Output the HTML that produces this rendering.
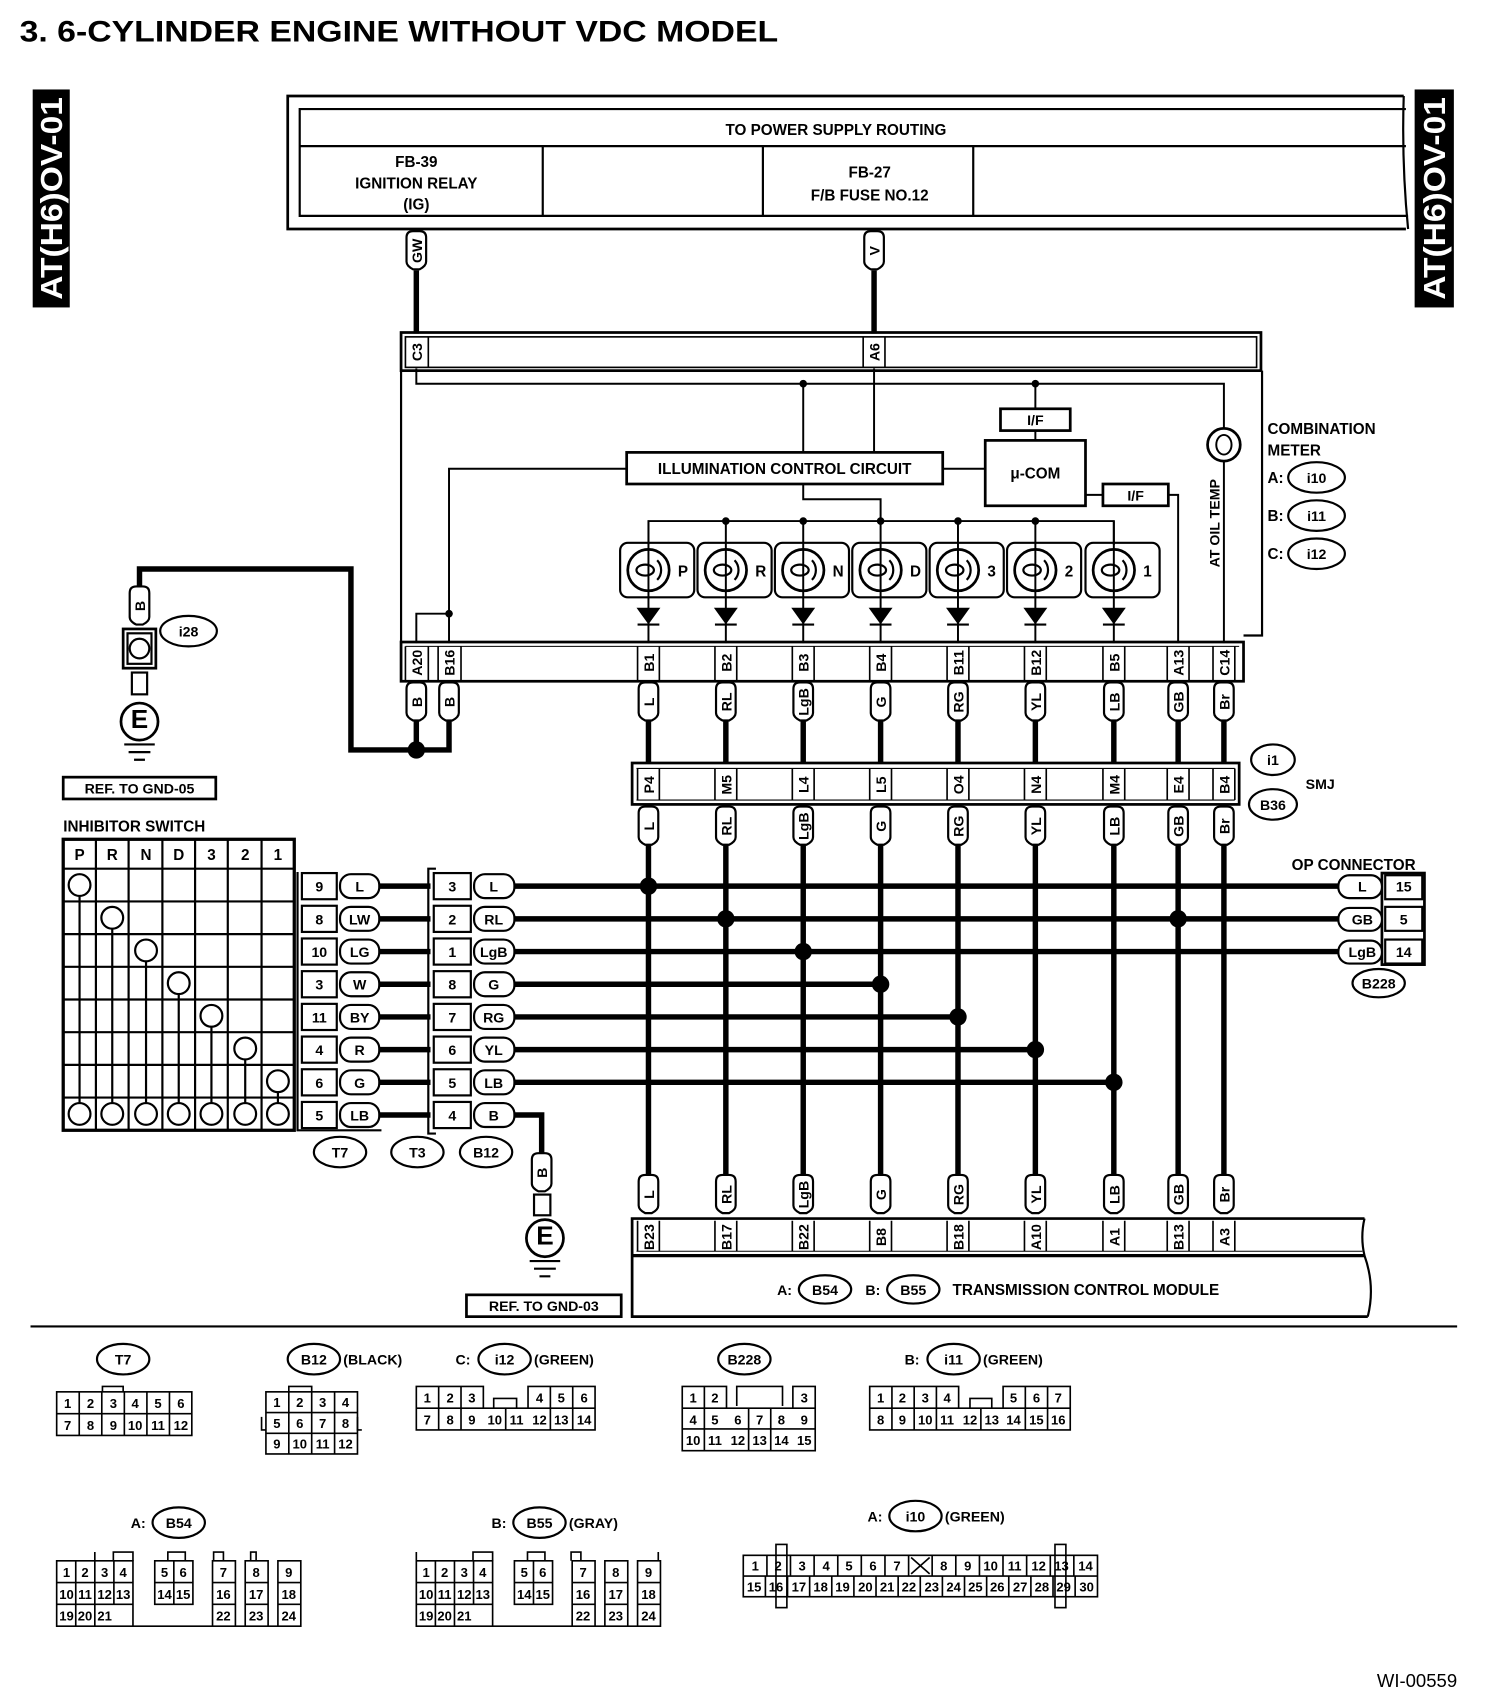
<!DOCTYPE html>
<html><head><meta charset="utf-8"><style>
html,body{margin:0;padding:0;background:#fff;}
svg{display:block;}
text{font-family:"Liberation Sans",sans-serif;font-weight:bold;fill:#000;}
.s{font-size:13px;}
.n{font-size:12px;font-weight:normal;}
</style></head><body>
<svg width="1504" height="1708" viewBox="0 0 1380 1567" xmlns="http://www.w3.org/2000/svg">
<rect width="1380" height="1567" fill="#fff"/>
<text x="18" y="38" font-size="27" textLength="696" lengthAdjust="spacingAndGlyphs">3.  6-CYLINDER ENGINE WITHOUT VDC MODEL</text>
<rect x="30" y="82" width="34" height="200" fill="#000"/>
<text transform="translate(57,182) rotate(-90)" text-anchor="middle" font-size="28" style="fill:#fff" textLength="186" lengthAdjust="spacingAndGlyphs">AT(H6)OV-01</text>
<rect x="1298" y="82" width="36" height="200" fill="#000"/>
<text transform="translate(1326,182) rotate(-90)" text-anchor="middle" font-size="28" style="fill:#fff" textLength="186" lengthAdjust="spacingAndGlyphs">AT(H6)OV-01</text>

<g fill="none" stroke="#000">
<path d="M1288,88 H264 V210 H1290" stroke-width="2.5"/>
<path d="M1290,100 H275 V198 H1292" stroke-width="2"/>
<path d="M1288,88 Q1286,150 1292,210" stroke-width="2"/>
<line x1="275" y1="134" x2="1290" y2="134" stroke-width="2"/>
<line x1="498" y1="134" x2="498" y2="198" stroke-width="2"/>
<line x1="700" y1="134" x2="700" y2="198" stroke-width="2"/>
<line x1="893" y1="134" x2="893" y2="198" stroke-width="2"/>
<line x1="382" y1="248" x2="382" y2="306" stroke-width="5"/>
<line x1="802" y1="248" x2="802" y2="306" stroke-width="5"/>
<rect x="368" y="305" width="789" height="35" stroke-width="2.5"/>
<rect x="372" y="309" width="781" height="28" stroke-width="1.5"/>
<line x1="393" y1="309" x2="393" y2="337" stroke-width="1.5"/>
<line x1="792" y1="309" x2="792" y2="337" stroke-width="1.5"/>
<line x1="812" y1="309" x2="812" y2="337" stroke-width="1.5"/>
<line x1="368" y1="340" x2="368" y2="590" stroke-width="2"/>
<path d="M1158,340 V583 H1141" stroke-width="2"/>
<rect x="368" y="589" width="773" height="36" stroke-width="2.5"/>
<line x1="372" y1="593" x2="1137" y2="593" stroke-width="1"/>
<g stroke-width="1.8">
<path d="M382,338 V352 H1123 V393"/>
<path d="M737,352 V415"/>
<path d="M950,352 V375"/>
<path d="M950,395 V404"/>
<path d="M802,338 V415"/>
<path d="M575,430 H412 V590"/>
<path d="M382,590 V563 H412"/>
<path d="M865,430 H904"/>
<path d="M737,444 V458 H808 V478"/>
<path d="M595,500 V478 H1022 V500"/>
<path d="M996,454 H1012"/>
<path d="M1072,454 H1081 V590"/>
<path d="M1123,423 V590"/>
<rect x="918" y="375" width="64" height="20" stroke-width="2.5"/>
<rect x="904" y="404" width="92" height="60" stroke-width="2.5"/>
<rect x="575" y="415" width="290" height="29" stroke-width="2.5"/>
<rect x="1012" y="444" width="60" height="20" stroke-width="2.5"/>
<circle cx="1123" cy="408" r="15" stroke-width="2.5"/>
<ellipse cx="1123" cy="408" rx="7" ry="9"/>
</g>
</g>
<g fill="#000">
<circle cx="737" cy="352" r="3.5"/><circle cx="950" cy="352" r="3.5"/><circle cx="412" cy="563" r="3.5"/>
<circle cx="666" cy="478" r="3.5"/><circle cx="737" cy="478" r="3.5"/><circle cx="808" cy="478" r="3.5"/><circle cx="879" cy="478" r="3.5"/><circle cx="950" cy="478" r="3.5"/>
</g>
<text x="950" y="390" text-anchor="middle" class="s">I/F</text>
<text x="950" y="439" text-anchor="middle" font-size="14">μ-COM</text>
<text x="720" y="435" text-anchor="middle" font-size="14">ILLUMINATION CONTROL CIRCUIT</text>
<text x="1042" y="459" text-anchor="middle" class="s">I/F</text>
<text transform="translate(1119,480) rotate(-90)" text-anchor="middle" class="s">AT OIL TEMP</text>

<defs>
<g id="lamp" fill="none" stroke="#000">
<rect x="-26" y="-25" width="68" height="50" rx="7" stroke-width="2"/>
<circle cx="0" cy="0" r="19" stroke-width="2.5"/>
<path d="M8,-9 A13,13 0 0 1 8,9" stroke-width="2"/>
<ellipse cx="-3" cy="0" rx="8" ry="5" stroke-width="2"/>
<line x1="0" y1="-45" x2="0" y2="67" stroke-width="1.8"/>
<path d="M-10,35 H10 L0,49 Z" fill="#000" stroke-width="1"/>
<line x1="-10" y1="50" x2="10" y2="50" stroke-width="2"/>
</g>
<g id="vpill" fill="#fff" stroke="#000" stroke-width="2">
<path d="M-9,6 Q-9,0 -3,0 H3 Q9,0 9,6 V28 Q9,32 3,35 H-3 Q-9,32 -9,28 Z"/>
</g>
</defs>
<use href="#lamp" x="595" y="523"/><use href="#lamp" x="666" y="523"/><use href="#lamp" x="737" y="523"/><use href="#lamp" x="808" y="523"/><use href="#lamp" x="879" y="523"/><use href="#lamp" x="950" y="523"/><use href="#lamp" x="1022" y="523"/>
<g font-size="14">
<text x="622" y="529">P</text><text x="693" y="529">R</text><text x="764" y="529">N</text><text x="835" y="529">D</text><text x="906" y="529">3</text><text x="977" y="529">2</text><text x="1049" y="529">1</text>
</g>

<g stroke="#000" stroke-width="1.5">
<line x1="372" y1="593" x2="372" y2="625"/><line x1="393" y1="593" x2="393" y2="625"/><line x1="402" y1="593" x2="402" y2="625"/><line x1="423" y1="593" x2="423" y2="625"/>
<line x1="585" y1="593" x2="585" y2="625"/><line x1="605" y1="593" x2="605" y2="625"/>
<line x1="656" y1="593" x2="656" y2="625"/><line x1="676" y1="593" x2="676" y2="625"/>
<line x1="727" y1="593" x2="727" y2="625"/><line x1="747" y1="593" x2="747" y2="625"/>
<line x1="798" y1="593" x2="798" y2="625"/><line x1="818" y1="593" x2="818" y2="625"/>
<line x1="869" y1="593" x2="869" y2="625"/><line x1="889" y1="593" x2="889" y2="625"/>
<line x1="940" y1="593" x2="940" y2="625"/><line x1="960" y1="593" x2="960" y2="625"/>
<line x1="1012" y1="593" x2="1012" y2="625"/><line x1="1032" y1="593" x2="1032" y2="625"/>
<line x1="1071" y1="593" x2="1071" y2="625"/><line x1="1091" y1="593" x2="1091" y2="625"/>
<line x1="1113" y1="593" x2="1113" y2="625"/><line x1="1133" y1="593" x2="1133" y2="625"/>
</g>
<g class="s">
<text transform="translate(807,323) rotate(-90)" text-anchor="middle">A6</text>
<text transform="translate(387,323) rotate(-90)" text-anchor="middle">C3</text>
</g>
<g font-size="13" text-anchor="middle">
<text transform="translate(387,608) rotate(-90)" text-anchor="middle">A20</text>
<text transform="translate(417,608) rotate(-90)" text-anchor="middle">B16</text>
<text transform="translate(600,608) rotate(-90)" text-anchor="middle">B1</text>
<text transform="translate(671,608) rotate(-90)" text-anchor="middle">B2</text>
<text transform="translate(742,608) rotate(-90)" text-anchor="middle">B3</text>
<text transform="translate(813,608) rotate(-90)" text-anchor="middle">B4</text>
<text transform="translate(884,608) rotate(-90)" text-anchor="middle">B11</text>
<text transform="translate(955,608) rotate(-90)" text-anchor="middle">B12</text>
<text transform="translate(1027,608) rotate(-90)" text-anchor="middle">B5</text>
<text transform="translate(1086,608) rotate(-90)" text-anchor="middle">A13</text>
<text transform="translate(1128,608) rotate(-90)" text-anchor="middle">C14</text>
</g>

<use href="#vpill" x="382" y="212"/><use href="#vpill" x="802" y="212"/>
<text transform="translate(387,230) rotate(-90)" text-anchor="middle" class="s">GW</text>
<text transform="translate(807,230) rotate(-90)" text-anchor="middle" class="s">V</text>

<g fill="none" stroke="#000" stroke-width="5">
<path d="M382,660 V688"/>
<path d="M412,660 V688 H322 V522 H128 V540"/>
<path d="M595,660 V702 M666,660 V702 M737,660 V702 M808,660 V702 M879,660 V702 M950,660 V702 M1022,660 V702 M1081,660 V702 M1123,660 V702"/>
<path d="M595,775 V1080 M666,775 V1080 M737,775 V1080 M808,775 V1080 M879,775 V1080 M950,775 V1080 M1022,775 V1080 M1081,775 V1080 M1123,775 V1080"/>
<path d="M472,813 H1232 M472,843 H1232 M472,873 H1232 M472,903 H808 M472,933 H879 M472,963 H950 M472,993 H1022"/>
<path d="M348,813 H395 M348,843 H395 M348,873 H395 M348,903 H395 M348,933 H395 M348,963 H395 M348,993 H395 M348,1023 H395"/>
<path d="M472,1023 H497 V1062"/>
</g>
<g fill="#000">
<circle cx="382" cy="688" r="8"/>
<circle cx="595" cy="813" r="8"/><circle cx="666" cy="843" r="8"/><circle cx="1081" cy="843" r="8"/><circle cx="737" cy="873" r="8"/><circle cx="808" cy="903" r="8"/><circle cx="879" cy="933" r="8"/><circle cx="950" cy="963" r="8"/><circle cx="1022" cy="993" r="8"/>
</g>

<use href="#vpill" x="382" y="626"/><use href="#vpill" x="412" y="626"/><use href="#vpill" x="595" y="626"/><use href="#vpill" x="666" y="626"/><use href="#vpill" x="737" y="626"/><use href="#vpill" x="808" y="626"/><use href="#vpill" x="879" y="626"/><use href="#vpill" x="950" y="626"/><use href="#vpill" x="1022" y="626"/><use href="#vpill" x="1081" y="626"/><use href="#vpill" x="1123" y="626"/>
<g font-size="13">
<text transform="translate(387,644) rotate(-90)" text-anchor="middle">B</text>
<text transform="translate(417,644) rotate(-90)" text-anchor="middle">B</text>
<text transform="translate(600,644) rotate(-90)" text-anchor="middle">L</text>
<text transform="translate(671,644) rotate(-90)" text-anchor="middle">RL</text>
<text transform="translate(742,644) rotate(-90)" text-anchor="middle">LgB</text>
<text transform="translate(813,644) rotate(-90)" text-anchor="middle">G</text>
<text transform="translate(884,644) rotate(-90)" text-anchor="middle">RG</text>
<text transform="translate(955,644) rotate(-90)" text-anchor="middle">YL</text>
<text transform="translate(1027,644) rotate(-90)" text-anchor="middle">LB</text>
<text transform="translate(1086,644) rotate(-90)" text-anchor="middle">GB</text>
<text transform="translate(1128,644) rotate(-90)" text-anchor="middle">Br</text>
</g>

<rect x="580" y="700" width="557" height="38" fill="#fff" stroke="#000" stroke-width="2.5"/>
<line x1="584" y1="705" x2="1133" y2="705" stroke="#000" stroke-width="1"/>
<line x1="584" y1="734" x2="1133" y2="734" stroke="#000" stroke-width="1"/>
<g stroke="#000" stroke-width="1.5">
<line x1="585" y1="705" x2="585" y2="734"/><line x1="605" y1="705" x2="605" y2="734"/><line x1="656" y1="705" x2="656" y2="734"/><line x1="676" y1="705" x2="676" y2="734"/><line x1="727" y1="705" x2="727" y2="734"/><line x1="747" y1="705" x2="747" y2="734"/><line x1="798" y1="705" x2="798" y2="734"/><line x1="818" y1="705" x2="818" y2="734"/><line x1="869" y1="705" x2="869" y2="734"/><line x1="889" y1="705" x2="889" y2="734"/><line x1="940" y1="705" x2="940" y2="734"/><line x1="960" y1="705" x2="960" y2="734"/><line x1="1012" y1="705" x2="1012" y2="734"/><line x1="1032" y1="705" x2="1032" y2="734"/><line x1="1071" y1="705" x2="1071" y2="734"/><line x1="1091" y1="705" x2="1091" y2="734"/><line x1="1113" y1="705" x2="1113" y2="734"/><line x1="1133" y1="705" x2="1133" y2="734"/>
</g>
<g font-size="13">
<text transform="translate(600,720) rotate(-90)" text-anchor="middle">P4</text>
<text transform="translate(671,720) rotate(-90)" text-anchor="middle">M5</text>
<text transform="translate(742,720) rotate(-90)" text-anchor="middle">L4</text>
<text transform="translate(813,720) rotate(-90)" text-anchor="middle">L5</text>
<text transform="translate(884,720) rotate(-90)" text-anchor="middle">O4</text>
<text transform="translate(955,720) rotate(-90)" text-anchor="middle">N4</text>
<text transform="translate(1027,720) rotate(-90)" text-anchor="middle">M4</text>
<text transform="translate(1086,720) rotate(-90)" text-anchor="middle">E4</text>
<text transform="translate(1128,720) rotate(-90)" text-anchor="middle">B4</text>
</g>
<use href="#vpill" x="595" y="740"/><use href="#vpill" x="666" y="740"/><use href="#vpill" x="737" y="740"/><use href="#vpill" x="808" y="740"/><use href="#vpill" x="879" y="740"/><use href="#vpill" x="950" y="740"/><use href="#vpill" x="1022" y="740"/><use href="#vpill" x="1081" y="740"/><use href="#vpill" x="1123" y="740"/>
<g font-size="13">
<text transform="translate(600,758) rotate(-90)" text-anchor="middle">L</text>
<text transform="translate(671,758) rotate(-90)" text-anchor="middle">RL</text>
<text transform="translate(742,758) rotate(-90)" text-anchor="middle">LgB</text>
<text transform="translate(813,758) rotate(-90)" text-anchor="middle">G</text>
<text transform="translate(884,758) rotate(-90)" text-anchor="middle">RG</text>
<text transform="translate(955,758) rotate(-90)" text-anchor="middle">YL</text>
<text transform="translate(1027,758) rotate(-90)" text-anchor="middle">LB</text>
<text transform="translate(1086,758) rotate(-90)" text-anchor="middle">GB</text>
<text transform="translate(1128,758) rotate(-90)" text-anchor="middle">Br</text>
</g>

<use href="#vpill" x="595" y="1078"/><use href="#vpill" x="666" y="1078"/><use href="#vpill" x="737" y="1078"/><use href="#vpill" x="808" y="1078"/><use href="#vpill" x="879" y="1078"/><use href="#vpill" x="950" y="1078"/><use href="#vpill" x="1022" y="1078"/><use href="#vpill" x="1081" y="1078"/><use href="#vpill" x="1123" y="1078"/>
<g font-size="13">
<text transform="translate(600,1096) rotate(-90)" text-anchor="middle">L</text>
<text transform="translate(671,1096) rotate(-90)" text-anchor="middle">RL</text>
<text transform="translate(742,1096) rotate(-90)" text-anchor="middle">LgB</text>
<text transform="translate(813,1096) rotate(-90)" text-anchor="middle">G</text>
<text transform="translate(884,1096) rotate(-90)" text-anchor="middle">RG</text>
<text transform="translate(955,1096) rotate(-90)" text-anchor="middle">YL</text>
<text transform="translate(1027,1096) rotate(-90)" text-anchor="middle">LB</text>
<text transform="translate(1086,1096) rotate(-90)" text-anchor="middle">GB</text>
<text transform="translate(1128,1096) rotate(-90)" text-anchor="middle">Br</text>
</g>
<g fill="none" stroke="#000">
<path d="M1252,1118 H580 V1208 H1255" stroke-width="2.5"/>
<path d="M1252,1118 Q1248,1135 1252,1152 Q1262,1180 1255,1208" stroke-width="2"/>
<line x1="580" y1="1152" x2="1252" y2="1152" stroke-width="3"/>
<line x1="584" y1="1148" x2="1250" y2="1148" stroke-width="1"/>
<g stroke-width="1.5">
<line x1="585" y1="1120" x2="585" y2="1148"/><line x1="605" y1="1120" x2="605" y2="1148"/><line x1="656" y1="1120" x2="656" y2="1148"/><line x1="676" y1="1120" x2="676" y2="1148"/><line x1="727" y1="1120" x2="727" y2="1148"/><line x1="747" y1="1120" x2="747" y2="1148"/><line x1="798" y1="1120" x2="798" y2="1148"/><line x1="818" y1="1120" x2="818" y2="1148"/><line x1="869" y1="1120" x2="869" y2="1148"/><line x1="889" y1="1120" x2="889" y2="1148"/><line x1="940" y1="1120" x2="940" y2="1148"/><line x1="960" y1="1120" x2="960" y2="1148"/><line x1="1012" y1="1120" x2="1012" y2="1148"/><line x1="1032" y1="1120" x2="1032" y2="1148"/><line x1="1071" y1="1120" x2="1071" y2="1148"/><line x1="1091" y1="1120" x2="1091" y2="1148"/><line x1="1113" y1="1120" x2="1113" y2="1148"/><line x1="1133" y1="1120" x2="1133" y2="1148"/>
</g>
</g>
<g font-size="13">
<text transform="translate(600,1135) rotate(-90)" text-anchor="middle">B23</text>
<text transform="translate(671,1135) rotate(-90)" text-anchor="middle">B17</text>
<text transform="translate(742,1135) rotate(-90)" text-anchor="middle">B22</text>
<text transform="translate(813,1135) rotate(-90)" text-anchor="middle">B8</text>
<text transform="translate(884,1135) rotate(-90)" text-anchor="middle">B18</text>
<text transform="translate(955,1135) rotate(-90)" text-anchor="middle">A10</text>
<text transform="translate(1027,1135) rotate(-90)" text-anchor="middle">A1</text>
<text transform="translate(1086,1135) rotate(-90)" text-anchor="middle">B13</text>
<text transform="translate(1128,1135) rotate(-90)" text-anchor="middle">A3</text>
</g>
<text x="713" y="1188" class="s">A:</text>
<ellipse cx="757" cy="1183" rx="24" ry="13" fill="none" stroke="#000" stroke-width="2"/>
<text x="757" y="1188" text-anchor="middle" class="s">B54</text>
<text x="794" y="1188" class="s">B:</text>
<ellipse cx="838" cy="1183" rx="24" ry="13" fill="none" stroke="#000" stroke-width="2"/>
<text x="838" y="1188" text-anchor="middle" class="s">B55</text>
<text x="874" y="1188" font-size="14">TRANSMISSION CONTROL MODULE</text>

<text x="767" y="124" text-anchor="middle" font-size="14">TO POWER SUPPLY ROUTING</text>
<text x="382" y="153" text-anchor="middle" font-size="14">FB-39</text>
<text x="382" y="173" text-anchor="middle" font-size="14">IGNITION RELAY</text>
<text x="382" y="192" text-anchor="middle" font-size="14">(IG)</text>
<text x="798" y="163" text-anchor="middle" font-size="14">FB-27</text>
<text x="798" y="184" text-anchor="middle" font-size="14">F/B FUSE NO.12</text>

<text x="1163" y="398" font-size="14">COMBINATION</text>
<text x="1163" y="418" font-size="14">METER</text>
<text x="1163" y="443" font-size="14">A:</text><text x="1163" y="478" font-size="14">B:</text><text x="1163" y="513" font-size="14">C:</text>
<g fill="none" stroke="#000" stroke-width="2">
<ellipse cx="1208" cy="438" rx="26" ry="14"/><ellipse cx="1208" cy="473" rx="26" ry="14"/><ellipse cx="1208" cy="508" rx="26" ry="14"/>
<ellipse cx="1168" cy="697" rx="20" ry="14"/><ellipse cx="1168" cy="738" rx="22" ry="14"/>
<ellipse cx="1265" cy="902" rx="24" ry="13"/>
<ellipse cx="173" cy="579" rx="26" ry="14"/>
<ellipse cx="312" cy="1057" rx="24" ry="14"/><ellipse cx="383" cy="1057" rx="24" ry="14"/><ellipse cx="446" cy="1057" rx="24" ry="14"/>
</g>
<g class="s" text-anchor="middle">
<text x="1208" y="443">i10</text><text x="1208" y="478">i11</text><text x="1208" y="513">i12</text>
<text x="1168" y="702">i1</text><text x="1168" y="743">B36</text>
<text x="1265" y="907">B228</text>
<text x="173" y="584">i28</text>
<text x="312" y="1062">T7</text><text x="383" y="1062">T3</text><text x="446" y="1062">B12</text>
</g>
<text x="1198" y="724" class="s">SMJ</text>

<use href="#vpill" x="128" y="538"/>
<text transform="translate(133,556) rotate(-90)" text-anchor="middle" class="s">B</text>
<g fill="none" stroke="#000" stroke-width="2">
<rect x="113" y="577" width="30" height="36" stroke-width="2.5"/>
<rect x="117" y="581" width="22" height="28"/>
<circle cx="128" cy="595" r="9"/>
<rect x="121" y="617" width="14" height="20"/>
<circle cx="128" cy="662" r="17" stroke-width="2.5"/>
<path d="M114,683 H142 M118,690 H138 M123,697 H133"/>
<rect x="58" y="713" width="140" height="20" stroke-width="2.5"/>
</g>
<text x="128" y="668" text-anchor="middle" font-size="24">E</text>
<text x="128" y="728" text-anchor="middle" class="s">REF. TO GND-05</text>

<use href="#vpill" x="497" y="1058"/>
<text transform="translate(502,1076) rotate(-90)" text-anchor="middle" class="s">B</text>
<g fill="none" stroke="#000" stroke-width="2">
<rect x="490" y="1096" width="15" height="19"/>
<circle cx="500" cy="1136" r="17" stroke-width="2.5"/>
<path d="M486,1157 H514 M490,1164 H510 M495,1171 H505"/>
<rect x="428" y="1188" width="142" height="20" stroke-width="2.5"/>
</g>
<text x="500" y="1142" text-anchor="middle" font-size="24">E</text>
<text x="499" y="1203" text-anchor="middle" class="s">REF. TO GND-03</text>

<text x="1242" y="798" text-anchor="middle" font-size="14">OP CONNECTOR</text>
<g fill="#fff" stroke="#000" stroke-width="2">
<rect x="1268" y="801" width="39" height="84" stroke-width="2.5"/>
<rect x="1271" y="803" width="34" height="22"/><rect x="1271" y="832" width="34" height="22"/><rect x="1271" y="862" width="34" height="22"/>
<rect x="1228" y="803" width="40" height="21" rx="10"/><rect x="1228" y="833" width="40" height="21" rx="10"/><rect x="1228" y="863" width="40" height="21" rx="10"/>
</g>
<g class="s" text-anchor="middle">
<text x="1250" y="818">L</text><text x="1250" y="848">GB</text><text x="1250" y="878">LgB</text>
<text x="1288" y="818">15</text><text x="1288" y="848">5</text><text x="1288" y="878">14</text>
</g>

<text x="58" y="763" font-size="14">INHIBITOR SWITCH</text>
<g fill="none" stroke="#000">
<rect x="58" y="770" width="212" height="267" stroke-width="3"/>
<g stroke-width="2">
<path d="M88,770 V1037 M118,770 V1037 M149,770 V1037 M179,770 V1037 M209,770 V1037 M240,770 V1037"/>
<path d="M58,797 H270 M58,827 H270 M58,857 H270 M58,887 H270 M58,917 H270 M58,947 H270 M58,977 H270 M58,1007 H270"/>
</g>
<g stroke-width="2">
<path d="M73,822 V1012 M103,852 V1012 M134,882 V1012 M164,912 V1012 M194,942 V1012 M225,972 V1012 M255,1002 V1012"/>
</g>
<g fill="#fff" stroke-width="2">
<circle cx="73" cy="812" r="10"/><circle cx="103" cy="842" r="10"/><circle cx="134" cy="872" r="10"/><circle cx="164" cy="902" r="10"/><circle cx="194" cy="932" r="10"/><circle cx="225" cy="962" r="10"/><circle cx="255" cy="992" r="10"/>
<circle cx="73" cy="1022" r="10"/><circle cx="103" cy="1022" r="10"/><circle cx="134" cy="1022" r="10"/><circle cx="164" cy="1022" r="10"/><circle cx="194" cy="1022" r="10"/><circle cx="225" cy="1022" r="10"/><circle cx="255" cy="1022" r="10"/>
</g>
<path d="M273,800 V1037 H350" stroke-width="2"/>
<g stroke-width="2" fill="#fff">
<rect x="277" y="801" width="32" height="24"/><rect x="277" y="831" width="32" height="24"/><rect x="277" y="861" width="32" height="24"/><rect x="277" y="891" width="32" height="24"/><rect x="277" y="921" width="32" height="24"/><rect x="277" y="951" width="32" height="24"/><rect x="277" y="981" width="32" height="24"/><rect x="277" y="1011" width="32" height="24"/>
<rect x="312" y="802" width="36" height="22" rx="10"/><rect x="312" y="832" width="36" height="22" rx="10"/><rect x="312" y="862" width="36" height="22" rx="10"/><rect x="312" y="892" width="36" height="22" rx="10"/><rect x="312" y="922" width="36" height="22" rx="10"/><rect x="312" y="952" width="36" height="22" rx="10"/><rect x="312" y="982" width="36" height="22" rx="10"/><rect x="312" y="1012" width="36" height="22" rx="10"/>
</g>
<path d="M400,797 H393 V1040 H400" stroke-width="2"/>
<g stroke-width="2" fill="#fff">
<rect x="398" y="801" width="34" height="24"/><rect x="398" y="831" width="34" height="24"/><rect x="398" y="861" width="34" height="24"/><rect x="398" y="891" width="34" height="24"/><rect x="398" y="921" width="34" height="24"/><rect x="398" y="951" width="34" height="24"/><rect x="398" y="981" width="34" height="24"/><rect x="398" y="1011" width="34" height="24"/>
<rect x="435" y="802" width="37" height="22" rx="10"/><rect x="435" y="832" width="37" height="22" rx="10"/><rect x="435" y="862" width="37" height="22" rx="10"/><rect x="435" y="892" width="37" height="22" rx="10"/><rect x="435" y="922" width="37" height="22" rx="10"/><rect x="435" y="952" width="37" height="22" rx="10"/><rect x="435" y="982" width="37" height="22" rx="10"/><rect x="435" y="1012" width="37" height="22" rx="10"/>
</g>
</g>
<g font-size="14" text-anchor="middle">
<text x="73" y="789">P</text><text x="103" y="789">R</text><text x="134" y="789">N</text><text x="164" y="789">D</text><text x="194" y="789">3</text><text x="225" y="789">2</text><text x="255" y="789">1</text>
</g>
<g class="s" text-anchor="middle">
<text x="293" y="818">9</text><text x="293" y="848">8</text><text x="293" y="878">10</text><text x="293" y="908">3</text><text x="293" y="938">11</text><text x="293" y="968">4</text><text x="293" y="998">6</text><text x="293" y="1028">5</text>
<text x="330" y="818">L</text><text x="330" y="848">LW</text><text x="330" y="878">LG</text><text x="330" y="908">W</text><text x="330" y="938">BY</text><text x="330" y="968">R</text><text x="330" y="998">G</text><text x="330" y="1028">LB</text>
<text x="415" y="818">3</text><text x="415" y="848">2</text><text x="415" y="878">1</text><text x="415" y="908">8</text><text x="415" y="938">7</text><text x="415" y="968">6</text><text x="415" y="998">5</text><text x="415" y="1028">4</text>
<text x="453" y="818">L</text><text x="453" y="848">RL</text><text x="453" y="878">LgB</text><text x="453" y="908">G</text><text x="453" y="938">RG</text><text x="453" y="968">YL</text><text x="453" y="998">LB</text><text x="453" y="1028">B</text>
</g>

<line x1="28" y1="1217" x2="1337" y2="1217" stroke="#000" stroke-width="2"/>

<g fill="none" stroke="#000" stroke-width="2">
<ellipse cx="113" cy="1247" rx="24" ry="14"/>
<ellipse cx="288" cy="1247" rx="24" ry="14"/>
<ellipse cx="463" cy="1247" rx="24" ry="14"/>
<ellipse cx="683" cy="1247" rx="24" ry="14"/>
<ellipse cx="875" cy="1247" rx="24" ry="14"/>
<ellipse cx="164" cy="1397" rx="24" ry="14"/>
<ellipse cx="495" cy="1397" rx="24" ry="14"/>
<ellipse cx="840" cy="1391" rx="24" ry="14"/>
</g>
<g class="s">
<text x="113" y="1252" text-anchor="middle">T7</text>
<text x="288" y="1252" text-anchor="middle">B12</text><text x="315" y="1252">(BLACK)</text>
<text x="418" y="1252">C:</text><text x="463" y="1252" text-anchor="middle">i12</text><text x="490" y="1252">(GREEN)</text>
<text x="683" y="1252" text-anchor="middle">B228</text>
<text x="830" y="1252">B:</text><text x="875" y="1252" text-anchor="middle">i11</text><text x="902" y="1252">(GREEN)</text>
<text x="120" y="1402">A:</text><text x="164" y="1402" text-anchor="middle">B54</text>
<text x="451" y="1402">B:</text><text x="495" y="1402" text-anchor="middle">B55</text><text x="522" y="1402">(GRAY)</text>
<text x="796" y="1396">A:</text><text x="840" y="1396" text-anchor="middle">i10</text><text x="867" y="1396">(GREEN)</text>
</g>

<g fill="none" stroke="#000" stroke-width="1.5">
<rect x="52" y="1277" width="124" height="40"/>
<path d="M52,1297 H176 M72.7,1277 V1317 M93.4,1277 V1317 M114.1,1277 V1317 M134.8,1277 V1317 M155.5,1277 V1317"/>
<path d="M94,1277 V1272 H113 V1277"/>
<rect x="244" y="1277" width="84" height="57"/>
<path d="M244,1296 H328 M244,1315 H328 M265,1277 V1334 M286,1277 V1334 M307,1277 V1334 M240,1300 V1312 H244 M328,1300 V1312 H332 M265,1277 V1272 H286 V1277"/>
<path d="M443.5,1292 V1272 H382 V1312 H546 V1272 H484.5 V1292 M382,1292 H546 M402.5,1272 V1312 M423,1272 V1312 M464,1292 V1312 M505,1272 V1312 M525.5,1272 V1312 M453,1292 V1283 H474 V1292"/>
<path d="M666.6,1292 V1272 H626 V1331 H748 V1272 H727.5 V1292 M626,1292 H748 M626,1311 H748 M646.3,1272 V1331 M686.9,1292 V1331 M707.2,1292 V1331 M676,1290 V1272 H718 V1290"/>
<path d="M879.6,1292 V1272 H798 V1312 H982 V1272 H920.4 V1292 M798,1292 H982 M818.4,1272 V1312 M838.8,1272 V1312 M859.2,1272 V1312 M900,1292 V1312 M940.8,1272 V1312 M961.2,1272 V1312 M890,1292 V1283 H910 V1292"/>
<path d="M122,1472 V1432 H52 V1492 H276 V1432 H255 V1492 M52,1452 H122 M52,1472 H122 M69.5,1432 V1492 M87,1432 V1492 M104.5,1432 V1472 M142,1432 H177 V1472 H142 Z M142,1452 H177 M159.5,1432 V1472 M195,1432 H216 V1492 H195 Z M195,1452 H216 M195,1472 H216 M225,1432 H246 V1492 H225 Z M225,1452 H246 M225,1472 H246 M255,1452 H276 M255,1472 H276 M122,1492 V1472"/>
<path d="M87,1432 V1424 M104,1432 V1424 H122 V1432 M154,1432 V1424 H170 V1432 M196,1432 V1424 H205 V1432 M230,1432 V1424 H235 V1432"/>
<path d="M452,1472 V1432 H382 V1492 H606 V1432 H585 V1492 M382,1452 H452 M382,1472 H452 M399.5,1432 V1492 M417,1432 V1492 M434.5,1432 V1472 M472,1432 H507 V1472 H472 Z M472,1452 H507 M489.5,1432 V1472 M525,1432 H546 V1492 H525 Z M525,1452 H546 M525,1472 H546 M555,1432 H576 V1492 H555 Z M555,1452 H576 M555,1472 H576 M585,1452 H606 M585,1472 H606 M452,1492 V1472"/>
<path d="M382,1432 V1424 M434,1432 V1424 H452 V1432 M484,1432 V1424 H500 V1432 M524,1432 V1424 H533 V1432 M604,1432 V1424"/>
<rect x="682" y="1427" width="325" height="38"/>
<path d="M682,1446 H1007 M703.7,1427 V1446 M725.3,1427 V1446 M747,1427 V1446 M768.7,1427 V1446 M790.3,1427 V1446 M812,1427 V1446 M833.7,1427 V1446 M855.3,1427 V1446 M877,1427 V1446 M898.7,1427 V1446 M920.3,1427 V1446 M942,1427 V1446 M963.7,1427 V1446 M985.3,1427 V1446"/>
<path d="M702.3,1446 V1465 M722.6,1446 V1465 M742.9,1446 V1465 M763.2,1446 V1465 M783.5,1446 V1465 M803.8,1446 V1465 M824.1,1446 V1465 M844.4,1446 V1465 M864.7,1446 V1465 M885,1446 V1465 M905.3,1446 V1465 M925.6,1446 V1465 M945.9,1446 V1465 M966.2,1446 V1465 M986.5,1446 V1465"/>
<path d="M836,1429 L853,1444 M853,1429 L836,1444"/>
<rect x="712" y="1417" width="10" height="58"/>
<rect x="968" y="1417" width="10" height="58"/>
</g>
<g class="n" text-anchor="middle">
<text x="62" y="1292">1</text><text x="83" y="1292">2</text><text x="104" y="1292">3</text><text x="124" y="1292">4</text><text x="145" y="1292">5</text><text x="166" y="1292">6</text>
<text x="62" y="1312">7</text><text x="83" y="1312">8</text><text x="104" y="1312">9</text><text x="124" y="1312">10</text><text x="145" y="1312">11</text><text x="166" y="1312">12</text>
<text x="254" y="1291">1</text><text x="275" y="1291">2</text><text x="296" y="1291">3</text><text x="317" y="1291">4</text>
<text x="254" y="1310">5</text><text x="275" y="1310">6</text><text x="296" y="1310">7</text><text x="317" y="1310">8</text>
<text x="254" y="1329">9</text><text x="275" y="1329">10</text><text x="296" y="1329">11</text><text x="317" y="1329">12</text>
<text x="392" y="1287">1</text><text x="413" y="1287">2</text><text x="433" y="1287">3</text><text x="495" y="1287">4</text><text x="515" y="1287">5</text><text x="536" y="1287">6</text>
<text x="392" y="1307">7</text><text x="413" y="1307">8</text><text x="433" y="1307">9</text><text x="454" y="1307">10</text><text x="474" y="1307">11</text><text x="495" y="1307">12</text><text x="515" y="1307">13</text><text x="536" y="1307">14</text>
<text x="636" y="1287">1</text><text x="656" y="1287">2</text><text x="738" y="1287">3</text>
<text x="636" y="1307">4</text><text x="656" y="1307">5</text><text x="677" y="1307">6</text><text x="697" y="1307">7</text><text x="717" y="1307">8</text><text x="738" y="1307">9</text>
<text x="636" y="1326">10</text><text x="656" y="1326">11</text><text x="677" y="1326">12</text><text x="697" y="1326">13</text><text x="717" y="1326">14</text><text x="738" y="1326">15</text>
<text x="808" y="1287">1</text><text x="828" y="1287">2</text><text x="849" y="1287">3</text><text x="869" y="1287">4</text><text x="930" y="1287">5</text><text x="951" y="1287">6</text><text x="971" y="1287">7</text>
<text x="808" y="1307">8</text><text x="828" y="1307">9</text><text x="849" y="1307">10</text><text x="869" y="1307">11</text><text x="890" y="1307">12</text><text x="910" y="1307">13</text><text x="930" y="1307">14</text><text x="951" y="1307">15</text><text x="971" y="1307">16</text>
<text x="61" y="1447">1</text><text x="78" y="1447">2</text><text x="96" y="1447">3</text><text x="113" y="1447">4</text><text x="151" y="1447">5</text><text x="168" y="1447">6</text><text x="205" y="1447">7</text><text x="235" y="1447">8</text><text x="265" y="1447">9</text>
<text x="61" y="1467">10</text><text x="78" y="1467">11</text><text x="96" y="1467">12</text><text x="113" y="1467">13</text><text x="151" y="1467">14</text><text x="168" y="1467">15</text><text x="205" y="1467">16</text><text x="235" y="1467">17</text><text x="265" y="1467">18</text>
<text x="61" y="1487">19</text><text x="78" y="1487">20</text><text x="96" y="1487">21</text><text x="205" y="1487">22</text><text x="235" y="1487">23</text><text x="265" y="1487">24</text>
<text x="391" y="1447">1</text><text x="408" y="1447">2</text><text x="426" y="1447">3</text><text x="443" y="1447">4</text><text x="481" y="1447">5</text><text x="498" y="1447">6</text><text x="535" y="1447">7</text><text x="565" y="1447">8</text><text x="595" y="1447">9</text>
<text x="391" y="1467">10</text><text x="408" y="1467">11</text><text x="426" y="1467">12</text><text x="443" y="1467">13</text><text x="481" y="1467">14</text><text x="498" y="1467">15</text><text x="535" y="1467">16</text><text x="565" y="1467">17</text><text x="595" y="1467">18</text>
<text x="391" y="1487">19</text><text x="408" y="1487">20</text><text x="426" y="1487">21</text><text x="535" y="1487">22</text><text x="565" y="1487">23</text><text x="595" y="1487">24</text>
<text x="693" y="1441">1</text><text x="714" y="1441">2</text><text x="736" y="1441">3</text><text x="758" y="1441">4</text><text x="779" y="1441">5</text><text x="801" y="1441">6</text><text x="823" y="1441">7</text><text x="866" y="1441">8</text><text x="888" y="1441">9</text><text x="909" y="1441">10</text><text x="931" y="1441">11</text><text x="953" y="1441">12</text><text x="974" y="1441">13</text><text x="996" y="1441">14</text>
<text x="692" y="1460">15</text><text x="712" y="1460">16</text><text x="733" y="1460">17</text><text x="753" y="1460">18</text><text x="773" y="1460">19</text><text x="794" y="1460">20</text><text x="814" y="1460">21</text><text x="834" y="1460">22</text><text x="855" y="1460">23</text><text x="875" y="1460">24</text><text x="895" y="1460">25</text><text x="915" y="1460">26</text><text x="936" y="1460">27</text><text x="956" y="1460">28</text><text x="976" y="1460">29</text><text x="997" y="1460">30</text>
</g>

<text x="1337" y="1548" text-anchor="end" font-size="17" style="font-weight:normal">WI-00559</text>
</svg>
</body></html>
